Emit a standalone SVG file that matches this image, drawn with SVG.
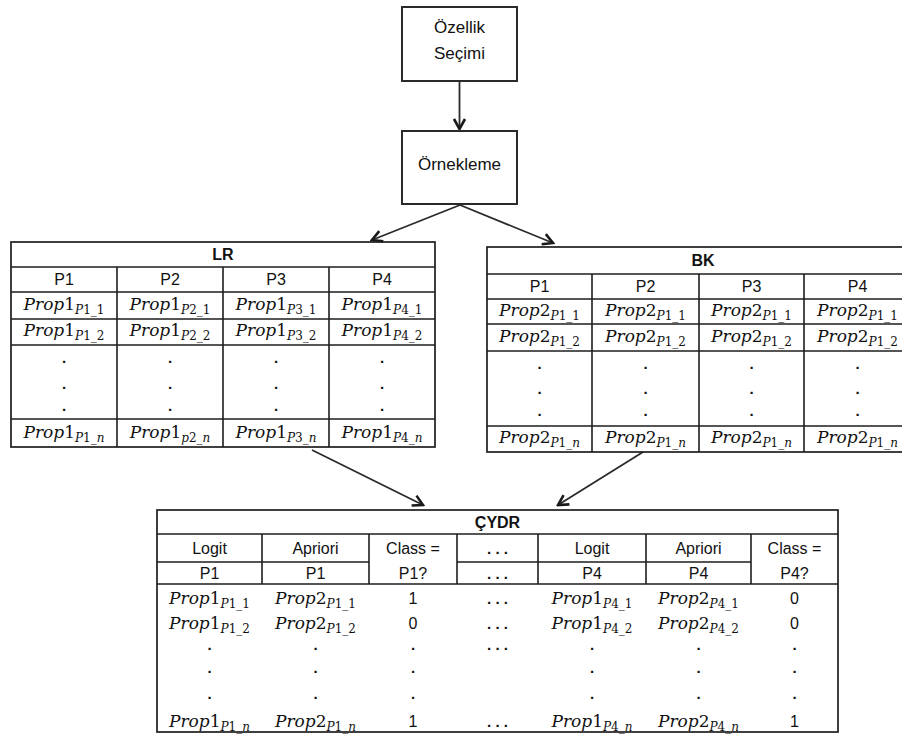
<svg xmlns="http://www.w3.org/2000/svg" width="902" height="736" viewBox="0 0 902 736">
<defs>
<style>
.box{fill:#fff;stroke:#2a2a2a;stroke-width:2}
.tb{fill:none;stroke:#1e1e1e;stroke-width:1.7}
.ln{stroke:#1e1e1e;stroke-width:1.6;fill:none}
.cn{stroke:#2a2a2a;stroke-width:1.8;fill:none;marker-end:url(#ah)}
.t{font-family:"Liberation Sans",Arial,sans-serif;font-size:16px;fill:#111;text-anchor:middle}
.tt{font-family:"Liberation Sans",Arial,sans-serif;font-size:17px;fill:#111;text-anchor:middle}
.b{font-weight:bold}
.d{font-weight:bold;font-size:15px}
.m{font-family:"DejaVu Serif","Liberation Serif",serif;font-size:17px;fill:#111;text-anchor:middle}
.i{font-style:italic}
.s{font-size:12px}
</style>
<marker id="ah" markerWidth="14" markerHeight="14" refX="12" refY="7" orient="auto" markerUnits="userSpaceOnUse">
<path d="M2,1.5 L12,7 L2,12.5" fill="none" stroke="#1a1a1a" stroke-width="2.6" stroke-linejoin="miter"/>
</marker>
</defs>
<rect width="902" height="736" fill="#fff"/>

<g id="connectors">
<line class="cn" x1="459.5" y1="81" x2="459.5" y2="129"/>
<line class="cn" x1="460" y1="205" x2="372" y2="240"/>
<line class="cn" x1="460" y1="205" x2="553" y2="243"/>
<line class="cn" x1="312" y1="450" x2="423" y2="505"/>
<line class="cn" x1="643" y1="452" x2="558" y2="505"/>
</g>

<g id="ozellik-secimi">
<rect class="box" x="402" y="7" width="115" height="74"/>
<text class="tt" x="459.5" y="33">Özellik</text>
<text class="tt" x="459.5" y="59">Seçimi</text>
</g>

<g id="orneklem">
<rect class="box" x="402" y="131" width="115" height="73"/>
<text class="tt" x="459.5" y="170">Örnekleme</text>
</g>

<g id="lr-table">
<rect class="tb" x="11" y="242" width="424" height="205"/>
<path class="ln" d="M11,267H435M11,292H435M11,319H435M11,345H435M11,419H435M117,267V447M223,267V447M329,267V447"/>
<text class="t b" x="223" y="260">LR</text>
<text class="t" x="64" y="285">P1</text>
<text class="t" x="170" y="285">P2</text>
<text class="t" x="276" y="285">P3</text>
<text class="t" x="382" y="285">P4</text>
<text class="m" x="64" y="310"><tspan class="i">Prop</tspan>1<tspan class="s" dy="4"><tspan class="i">P</tspan>1_1</tspan></text>
<text class="m" x="170" y="310"><tspan class="i">Prop</tspan>1<tspan class="s" dy="4"><tspan class="i">P</tspan>2_1</tspan></text>
<text class="m" x="276" y="310"><tspan class="i">Prop</tspan>1<tspan class="s" dy="4"><tspan class="i">P</tspan>3_1</tspan></text>
<text class="m" x="382" y="310"><tspan class="i">Prop</tspan>1<tspan class="s" dy="4"><tspan class="i">P</tspan>4_1</tspan></text>
<text class="m" x="64" y="336"><tspan class="i">Prop</tspan>1<tspan class="s" dy="4"><tspan class="i">P</tspan>1_2</tspan></text>
<text class="m" x="170" y="336"><tspan class="i">Prop</tspan>1<tspan class="s" dy="4"><tspan class="i">P</tspan>2_2</tspan></text>
<text class="m" x="276" y="336"><tspan class="i">Prop</tspan>1<tspan class="s" dy="4"><tspan class="i">P</tspan>3_2</tspan></text>
<text class="m" x="382" y="336"><tspan class="i">Prop</tspan>1<tspan class="s" dy="4"><tspan class="i">P</tspan>4_2</tspan></text>
<text class="t d" x="64" y="363">.</text><text class="t d" x="64" y="389">.</text><text class="t d" x="64" y="411">.</text>
<text class="t d" x="170" y="363">.</text><text class="t d" x="170" y="389">.</text><text class="t d" x="170" y="411">.</text>
<text class="t d" x="276" y="363">.</text><text class="t d" x="276" y="389">.</text><text class="t d" x="276" y="411">.</text>
<text class="t d" x="382" y="363">.</text><text class="t d" x="382" y="389">.</text><text class="t d" x="382" y="411">.</text>
<text class="m" x="64" y="438"><tspan class="i">Prop</tspan>1<tspan class="s" dy="4"><tspan class="i">P</tspan>1_<tspan class="i">n</tspan></tspan></text>
<text class="m" x="170" y="438"><tspan class="i">Prop</tspan>1<tspan class="s" dy="4"><tspan class="i">p</tspan>2_<tspan class="i">n</tspan></tspan></text>
<text class="m" x="276" y="438"><tspan class="i">Prop</tspan>1<tspan class="s" dy="4"><tspan class="i">P</tspan>3_<tspan class="i">n</tspan></tspan></text>
<text class="m" x="382" y="438"><tspan class="i">Prop</tspan>1<tspan class="s" dy="4"><tspan class="i">P</tspan>4_<tspan class="i">n</tspan></tspan></text>
</g>

<g id="bk-table">
<rect class="tb" x="487" y="247" width="424" height="205"/>
<path class="ln" d="M487,274H911M487,299H911M487,324H911M487,351H911M487,426H911M592,274V452M699,274V452M804,274V452"/>
<text class="t b" x="703" y="266">BK</text>
<text class="t" x="539.5" y="292">P1</text>
<text class="t" x="645.5" y="292">P2</text>
<text class="t" x="751.5" y="292">P3</text>
<text class="t" x="857.5" y="292">P4</text>
<text class="m" x="539.5" y="316"><tspan class="i">Prop</tspan>2<tspan class="s" dy="4"><tspan class="i">P</tspan>1_1</tspan></text>
<text class="m" x="645.5" y="316"><tspan class="i">Prop</tspan>2<tspan class="s" dy="4"><tspan class="i">P</tspan>1_1</tspan></text>
<text class="m" x="751.5" y="316"><tspan class="i">Prop</tspan>2<tspan class="s" dy="4"><tspan class="i">P</tspan>1_1</tspan></text>
<text class="m" x="857.5" y="316"><tspan class="i">Prop</tspan>2<tspan class="s" dy="4"><tspan class="i">P</tspan>1_1</tspan></text>
<text class="m" x="539.5" y="342"><tspan class="i">Prop</tspan>2<tspan class="s" dy="4"><tspan class="i">P</tspan>1_2</tspan></text>
<text class="m" x="645.5" y="342"><tspan class="i">Prop</tspan>2<tspan class="s" dy="4"><tspan class="i">P</tspan>1_2</tspan></text>
<text class="m" x="751.5" y="342"><tspan class="i">Prop</tspan>2<tspan class="s" dy="4"><tspan class="i">P</tspan>1_2</tspan></text>
<text class="m" x="857.5" y="342"><tspan class="i">Prop</tspan>2<tspan class="s" dy="4"><tspan class="i">P</tspan>1_2</tspan></text>
<text class="t d" x="539.5" y="369">.</text><text class="t d" x="539.5" y="394">.</text><text class="t d" x="539.5" y="416">.</text>
<text class="t d" x="645.5" y="369">.</text><text class="t d" x="645.5" y="394">.</text><text class="t d" x="645.5" y="416">.</text>
<text class="t d" x="751.5" y="369">.</text><text class="t d" x="751.5" y="394">.</text><text class="t d" x="751.5" y="416">.</text>
<text class="t d" x="857.5" y="369">.</text><text class="t d" x="857.5" y="394">.</text><text class="t d" x="857.5" y="416">.</text>
<text class="m" x="539.5" y="443"><tspan class="i">Prop</tspan>2<tspan class="s" dy="4"><tspan class="i">P</tspan>1_<tspan class="i">n</tspan></tspan></text>
<text class="m" x="645.5" y="443"><tspan class="i">Prop</tspan>2<tspan class="s" dy="4"><tspan class="i">P</tspan>1_<tspan class="i">n</tspan></tspan></text>
<text class="m" x="751.5" y="443"><tspan class="i">Prop</tspan>2<tspan class="s" dy="4"><tspan class="i">P</tspan>1_<tspan class="i">n</tspan></tspan></text>
<text class="m" x="857.5" y="443"><tspan class="i">Prop</tspan>2<tspan class="s" dy="4"><tspan class="i">P</tspan>1_<tspan class="i">n</tspan></tspan></text>
</g>

<g id="cydr-table">
<rect class="tb" x="157" y="510" width="681" height="222"/>
<path class="ln" d="M157,534H838M157,584H838M157,562H369M457,562H751M262,534V584M369,534V584M457,534V584M538,534V584M646,534V584M751,534V584"/>
<text class="t b" x="497.5" y="528">ÇYDR</text>
<text class="t" x="209.5" y="554">Logit</text>
<text class="t" x="315.5" y="554">Apriori</text>
<text class="t" x="413" y="554">Class =</text>
<text class="t d" x="497.5" y="554">. . .</text>
<text class="t" x="592" y="554">Logit</text>
<text class="t" x="698.5" y="554">Apriori</text>
<text class="t" x="794.5" y="554">Class =</text>
<text class="t" x="209.5" y="579">P1</text>
<text class="t" x="315.5" y="579">P1</text>
<text class="t" x="413" y="579">P1?</text>
<text class="t d" x="497.5" y="579">. . .</text>
<text class="t" x="592" y="579">P4</text>
<text class="t" x="698.5" y="579">P4</text>
<text class="t" x="794.5" y="579">P4?</text>

<text class="m" x="209.5" y="604"><tspan class="i">Prop</tspan>1<tspan class="s" dy="4"><tspan class="i">P</tspan>1_1</tspan></text>
<text class="m" x="315.5" y="604"><tspan class="i">Prop</tspan>2<tspan class="s" dy="4"><tspan class="i">P</tspan>1_1</tspan></text>
<text class="t" x="413" y="604">1</text>
<text class="t d" x="497.5" y="604">. . .</text>
<text class="m" x="592" y="604"><tspan class="i">Prop</tspan>1<tspan class="s" dy="4"><tspan class="i">P</tspan>4_1</tspan></text>
<text class="m" x="698.5" y="604"><tspan class="i">Prop</tspan>2<tspan class="s" dy="4"><tspan class="i">P</tspan>4_1</tspan></text>
<text class="t" x="794.5" y="604">0</text>

<text class="m" x="209.5" y="629"><tspan class="i">Prop</tspan>1<tspan class="s" dy="4"><tspan class="i">P</tspan>1_2</tspan></text>
<text class="m" x="315.5" y="629"><tspan class="i">Prop</tspan>2<tspan class="s" dy="4"><tspan class="i">P</tspan>1_2</tspan></text>
<text class="t" x="413" y="629">0</text>
<text class="t d" x="497.5" y="629">. . .</text>
<text class="m" x="592" y="629"><tspan class="i">Prop</tspan>1<tspan class="s" dy="4"><tspan class="i">P</tspan>4_2</tspan></text>
<text class="m" x="698.5" y="629"><tspan class="i">Prop</tspan>2<tspan class="s" dy="4"><tspan class="i">P</tspan>4_2</tspan></text>
<text class="t" x="794.5" y="629">0</text>

<text class="t d" x="209.5" y="650">.</text><text class="t d" x="315.5" y="650">.</text><text class="t d" x="413" y="650">.</text><text class="t d" x="497.5" y="650">. . .</text><text class="t d" x="592" y="650">.</text><text class="t d" x="698.5" y="650">.</text><text class="t d" x="794.5" y="650">.</text>
<text class="t d" x="209.5" y="673">.</text><text class="t d" x="315.5" y="673">.</text><text class="t d" x="413" y="673">.</text><text class="t d" x="592" y="673">.</text><text class="t d" x="698.5" y="673">.</text><text class="t d" x="794.5" y="673">.</text>
<text class="t d" x="209.5" y="699">.</text><text class="t d" x="315.5" y="699">.</text><text class="t d" x="413" y="699">.</text><text class="t d" x="592" y="699">.</text><text class="t d" x="698.5" y="699">.</text><text class="t d" x="794.5" y="699">.</text>

<text class="m" x="209.5" y="727"><tspan class="i">Prop</tspan>1<tspan class="s" dy="4"><tspan class="i">P</tspan>1_<tspan class="i">n</tspan></tspan></text>
<text class="m" x="315.5" y="727"><tspan class="i">Prop</tspan>2<tspan class="s" dy="4"><tspan class="i">P</tspan>1_<tspan class="i">n</tspan></tspan></text>
<text class="t" x="413" y="727">1</text>
<text class="t d" x="497.5" y="727">. . .</text>
<text class="m" x="592" y="727"><tspan class="i">Prop</tspan>1<tspan class="s" dy="4"><tspan class="i">P</tspan>4_<tspan class="i">n</tspan></tspan></text>
<text class="m" x="698.5" y="727"><tspan class="i">Prop</tspan>2<tspan class="s" dy="4"><tspan class="i">P</tspan>4_<tspan class="i">n</tspan></tspan></text>
<text class="t" x="794.5" y="727">1</text>
</g>
</svg>
